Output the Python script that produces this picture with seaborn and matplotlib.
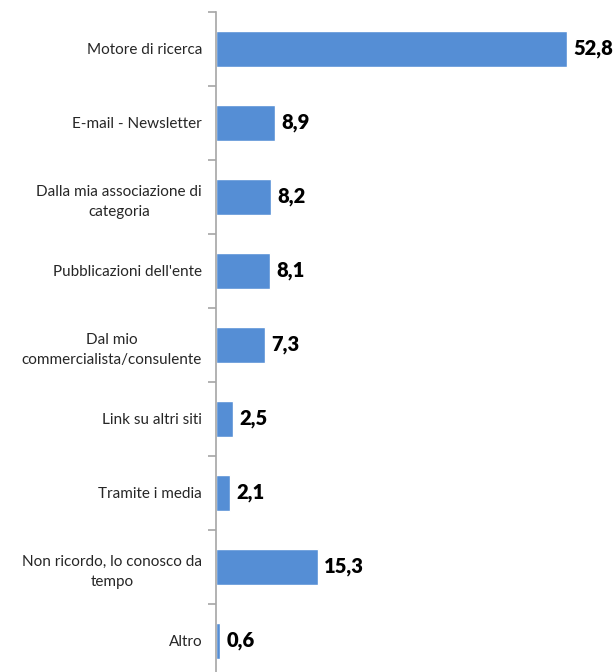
import seaborn as sns
import matplotlib.pyplot as plt
import pandas as pd

categorie = ["Motore di ricerca", "E-mail - Newsletter",
             "Dalla mia associazione di\ncategoria", "Pubblicazioni dell'ente",
             "Dal mio\ncommercialista/consulente", "Link su altri siti",
             "Tramite i media", "Non ricordo, lo conosco da\ntempo", "Altro"]
valori = [52.8, 8.9, 8.2, 8.1, 7.3, 2.5, 2.1, 15.3, 0.6]

df = pd.DataFrame({"cat": categorie, "val": valori})

sns.set_style("white")
plt.rcParams['font.family'] = ['Lato', 'DejaVu Sans']

fig = plt.figure(figsize=(6.15, 6.72), dpi=100)
ax = fig.add_axes([216/615, 1 - 678/672, 399/615, 666/672])

sns.barplot(data=df, x="val", y="cat", color="#558ED5", width=0.49,
            saturation=1, ax=ax, orient="h")

ax.set_xlim(0, 60)
ax.set_ylim(len(categorie) - 0.5, -0.5)
ax.set_xlabel("")
ax.set_ylabel("")
ax.set_xticks([])

for s in ["top", "right", "bottom"]:
    ax.spines[s].set_visible(False)
ax.spines["left"].set_color("#a6a6a6")
ax.spines["left"].set_linewidth(1.2)

ax.set_yticks(range(len(categorie)))
ax.set_yticklabels(categorie, fontsize=11, multialignment="center",
                   linespacing=1.6)
ax.tick_params(axis="y", which="major", length=0, pad=10)
ax.set_yticks([i - 0.5 for i in range(len(categorie) + 1)], minor=True)
ax.tick_params(axis="y", which="minor", left=True, length=6,
               color="#a6a6a6", width=1.2)

for i, v in enumerate(valori):
    ax.text(v + 1.0, i, f"{v:.1f}".replace(".", ","), va="center", ha="left",
            fontsize=14.5, fontweight="heavy", color="black")

fig.savefig("out.png", dpi=100)
